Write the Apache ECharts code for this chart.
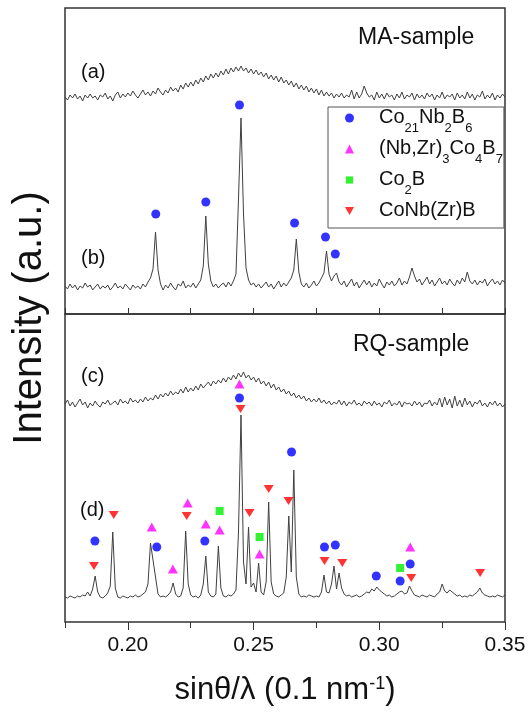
<!DOCTYPE html>
<html><head><meta charset="utf-8">
<script src="https://cdn.jsdelivr.net/npm/echarts@6/dist/echarts.min.js"></script>
<style>html,body{margin:0;padding:0;background:#fff}#c{width:529px;height:714px}</style>
</head><body><div id="c"></div>
<script>
const FONT = '"Liberation Sans", Arial, sans-serif';
// sampling of the patterns (sinθ/λ)
const sampleStart = 0.175, sampleStep = 0.001;
const xMin = 0.175, xMax = 0.35;
const majorTicks = [0.20, 0.25, 0.30, 0.35];
const minorTicks = [0.175, 0.225, 0.275, 0.325];

// MA-sample (a): amorphous
const curveA = [
217,214,219,216,220,215,218,213,219,216,
220,216,218,214,219,217,221,215,218,213,
219,222,216,220,217,221,218,223,219,216,
220,224,219,222,218,223,220,226,222,219,
224,221,227,223,226,222,229,225,231,227,
232,228,234,230,236,232,238,234,240,236,
241,237,243,239,245,240,246,242,247,243,
248,243,246,241,245,240,244,239,242,237,
241,235,239,234,238,232,237,231,234,229,
233,227,231,225,229,224,228,222,226,221,
225,219,224,218,222,218,221,216,220,217,
221,216,219,217,224,215,222,216,220,228,
221,217,219,214,222,216,220,215,221,217,
219,214,220,216,222,215,219,217,221,214,
220,216,219,215,221,217,220,214,219,216,
222,215,219,217,220,214,221,216,219,215,
222,216,220,214,219,217,223,215,219,216,
221,214,219,216,220,217];
// MA-sample (b): annealed
const curveB = [
28,25,30,26,29,24,28,26,31,27,
29,24,27,30,25,28,26,29,24,27,
31,26,28,25,30,27,24,29,26,28,
25,30,27,32,36,45,82,44,30,24,
29,26,31,27,24,30,28,33,26,29,
27,31,26,30,34,48,98,50,33,27,
30,26,29,31,27,32,28,33,40,115,
196,100,46,34,29,31,27,30,26,29,
32,27,30,25,29,33,27,31,28,32,
36,44,75,42,30,27,31,26,29,33,
28,31,36,41,63,40,33,38,41,32,
29,33,27,31,35,28,32,26,30,34,
29,33,27,31,28,35,30,26,32,29,
33,28,31,36,29,33,30,37,46,38,
32,35,29,33,37,30,34,28,32,36,
30,33,29,35,31,28,34,30,36,32,
42,33,30,34,29,33,31,35,28,32,
35,30,33,29,34,31];
// RQ-sample (c): amorphous
const curveC = [
218,222,216,220,215,219,223,217,220,214,
219,216,221,217,215,220,218,222,217,219,
221,217,223,219,221,218,224,220,222,219,
223,220,225,221,224,222,227,223,228,225,
229,226,231,227,230,228,233,229,235,230,
234,231,236,232,238,234,237,240,236,241,
238,242,239,244,240,245,242,247,243,249,
245,250,244,247,242,245,240,244,238,241,
236,240,234,238,232,235,230,233,228,231,
226,229,224,227,223,226,221,224,220,223,
220,224,219,222,218,221,217,220,218,222,
217,221,216,220,218,222,217,219,216,221,
218,220,216,221,217,219,215,220,218,222,
216,219,217,221,215,220,218,219,216,221,
217,220,215,219,218,222,216,220,217,224,
215,225,217,223,214,226,216,222,215,224,
217,221,215,220,218,222,216,219,215,220,
217,221,216,219,215,218];
// RQ-sample (d): annealed
const curveD = [
25,24,26,25,24,26,25,27,26,30,
26,33,46,30,25,24,26,29,36,90,
34,25,24,26,25,24,26,25,27,25,
26,28,30,38,79,62,45,28,25,26,
25,27,30,39,28,25,26,34,91,38,
27,25,26,24,27,38,66,30,26,25,
28,76,34,26,25,27,26,28,32,90,
207,60,38,95,35,39,30,59,30,27,
40,120,40,28,26,25,27,29,45,106,
50,152,45,28,25,26,25,27,26,25,
26,25,30,47,30,29,38,56,33,49,
34,28,26,27,25,26,27,25,26,28,
30,29,33,31,35,32,30,28,26,27,
25,26,28,30,31,28,29,36,31,27,
26,25,27,26,25,27,26,25,28,30,
38,31,29,32,30,28,26,27,25,26,
25,27,26,28,30,34,29,27,26,25,
26,25,27,26,25,27];

// phase markers [sinθ/λ, intensity]
const maCo21Nb2B6 = [[0.2111,100],[0.2310,112],[0.2444,209],[0.2663,91],[0.2786,77],[0.2825,60]];
const rqCo21Nb2B6 = [[0.1869,81],[0.2115,75],[0.2306,81],[0.2444,224],[0.2651,170],[0.2782,75],[0.2825,77],[0.2988,46],[0.3083,41],[0.3123,58]];
const rqNbZrCo4B7 = [[0.2095,95],[0.2179,53],[0.2238,119],[0.2310,98],[0.2365,92],[0.2444,238],[0.2524,68],[0.3123,75]];
const rqCo2B = [[0.2365,111],[0.2524,85],[0.3083,54]];
const rqCoNbZrB = [[0.1865,56],[0.1944,107],[0.2234,106],[0.2448,213],[0.2484,109],[0.2560,133],[0.2639,121],[0.2782,61],[0.2853,59],[0.3127,44],[0.3401,49]];

const phaseNames = ['Co21Nb2B6', '(Nb,Zr)3Co4B7', 'Co2B', 'CoNb(Zr)B'];
const phaseLabels = {
  'Co21Nb2B6': '{n|Co}{s|21}{n|Nb}{s|2}{n|B}{s|6}',
  '(Nb,Zr)3Co4B7': '{n|(Nb,Zr)}{s|3}{n|Co}{s|4}{n|B}{s|7}',
  'Co2B': '{n|Co}{s|2}{n|B}',
  'CoNb(Zr)B': '{n|CoNb(Zr)B}{s| }'
};
const DOWN_TRI = 'path://M0,0L10,0L5,9Z';
const SQUARE_ICON = 'path://M0,0M10,10M1,1L9,1L9,9L1,9Z';

function toPairs(arr) { return arr.map((v, i) => [+(sampleStart + i * sampleStep).toFixed(4), v]); }

const lineStyle = { color: '#404040', width: 1 };
function curve(name, arr, xi, yi) {
  return { type: 'line', name, xAxisIndex: xi, yAxisIndex: yi, data: toPairs(arr), symbol: 'none', showSymbol: false, lineStyle, silent: true, z: 2 };
}
function marks(name, data, xi, yi, symbol, size, color) {
  return { type: 'scatter', name, xAxisIndex: xi, yAxisIndex: yi, data, symbol, symbolSize: size, itemStyle: { color }, silent: true, z: 5 };
}

const chart = echarts.init(document.getElementById('c'), null, { renderer: 'canvas' });
const tickStyle = { color: '#333', width: 1 };
const option = {
  animation: false,
  backgroundColor: '#fff',
  textStyle: { fontFamily: FONT },
  grid: [
    { left: 65, right: 24, top: 8, height: 306, show: true, borderColor: '#333', borderWidth: 1.5 },
    { left: 65, right: 24, top: 314, height: 308, show: true, borderColor: '#333', borderWidth: 1.5 }
  ],
  xAxis: [
    { gridIndex: 0, type: 'value', min: xMin, max: xMax, interval: 0.025, position: 'bottom',
      axisLine: { show: false }, axisTick: { show: true, inside: true, length: 6, lineStyle: tickStyle },
      axisLabel: { show: false }, splitLine: { show: false } },
    { gridIndex: 1, type: 'value', min: xMin, max: xMax, interval: 0.025, position: 'top',
      axisLine: { show: false }, axisTick: { show: true, inside: true, length: 6, lineStyle: tickStyle },
      axisLabel: { show: false }, splitLine: { show: false } },
    { gridIndex: 1, type: 'value', min: xMin, max: xMax, interval: 0.025, position: 'bottom',
      axisLine: { show: false },
      axisTick: { show: true, inside: false, length: 8, lineStyle: tickStyle, customValues: majorTicks },
      axisLabel: { show: true, customValues: majorTicks, fontSize: 21, margin: 13, color: '#111', fontFamily: FONT,
        formatter: v => (Math.round(v * 1000) % 50 === 0 ? v.toFixed(2) : '') },
      splitLine: { show: false } },
    { gridIndex: 1, type: 'value', min: xMin, max: xMax, interval: 0.025, position: 'bottom',
      axisLine: { show: false },
      axisTick: { show: true, inside: false, length: 4, lineStyle: tickStyle, customValues: minorTicks },
      axisLabel: { show: false }, splitLine: { show: false } }
  ],
  yAxis: [
    { gridIndex: 0, type: 'value', min: 0, max: 306, show: false },
    { gridIndex: 1, type: 'value', min: 0, max: 308, show: false }
  ],
  legend: {
    data: [
      { name: phaseNames[0], icon: 'circle' },
      { name: phaseNames[1], icon: 'triangle' },
      { name: phaseNames[2], icon: SQUARE_ICON },
      { name: phaseNames[3], icon: DOWN_TRI }
    ],
    orient: 'vertical', left: 328, top: 107, itemWidth: 9, itemHeight: 9, itemGap: 3,
    padding: [0, 1, 0, 17], backgroundColor: '#fff', borderColor: '#555', borderWidth: 1,
    selectedMode: false,
    formatter: name => phaseLabels[name],
    textStyle: {
      padding: [0, 0, 0, 20], color: '#111', fontFamily: FONT,
      rich: {
        n: { fontSize: 20, lineHeight: 22, verticalAlign: 'top', color: '#111', fontFamily: FONT },
        s: { fontSize: 13, lineHeight: 13, padding: [15, 0, 0, 0], verticalAlign: 'top', color: '#111', fontFamily: FONT }
      }
    }
  },
  series: [
    curve('(a)', curveA, 0, 0),
    curve('(b)', curveB, 0, 0),
    marks(phaseNames[0], maCo21Nb2B6, 0, 0, 'circle', 9, '#0000ff'),
    curve('(c)', curveC, 2, 1),
    curve('(d)', curveD, 2, 1),
    marks(phaseNames[0], rqCo21Nb2B6, 2, 1, 'circle', 9, '#0000ff'),
    marks(phaseNames[1], rqNbZrCo4B7, 2, 1, 'triangle', [10, 9], '#ff00ff'),
    marks(phaseNames[2], rqCo2B, 2, 1, 'rect', 8, '#00ee00'),
    marks(phaseNames[3], rqCoNbZrB, 2, 1, DOWN_TRI, [10, 8], '#ff0000')
  ],
  graphic: [
    { type: 'text', left: 358, top: 26, style: { text: 'MA-sample', font: '23px ' + FONT, fill: '#111' } },
    { type: 'text', left: 353, top: 333, style: { text: 'RQ-sample', font: '23px ' + FONT, fill: '#111' } },
    { type: 'text', left: 81, top: 62, style: { text: '(a)', font: '20px ' + FONT, fill: '#111' } },
    { type: 'text', left: 81, top: 248, style: { text: '(b)', font: '20px ' + FONT, fill: '#111' } },
    { type: 'text', left: 81, top: 366, style: { text: '(c)', font: '20px ' + FONT, fill: '#111' } },
    { type: 'text', left: 80, top: 500, style: { text: '(d)', font: '20px ' + FONT, fill: '#111' } },
    { type: 'text', x: 30, y: 318, rotation: Math.PI / 2,
      style: { text: 'Intensity (a.u.)', font: '40px ' + FONT, fill: '#111', align: 'center', verticalAlign: 'middle' } },
    { type: 'text', x: 285, y: 697,
      style: { text: '{t|sinθ/λ (0.1 nm}{p|-1}{t|)}', align: 'center', verticalAlign: 'middle', fill: '#111',
        rich: {
          t: { fontSize: 31, lineHeight: 44, verticalAlign: 'top', fontFamily: FONT, fill: '#111' },
          p: { fontSize: 18, lineHeight: 18, verticalAlign: 'top', fontFamily: FONT, fill: '#111' }
        } } }
  ]
};
chart.setOption(option);
</script>
</body></html>
